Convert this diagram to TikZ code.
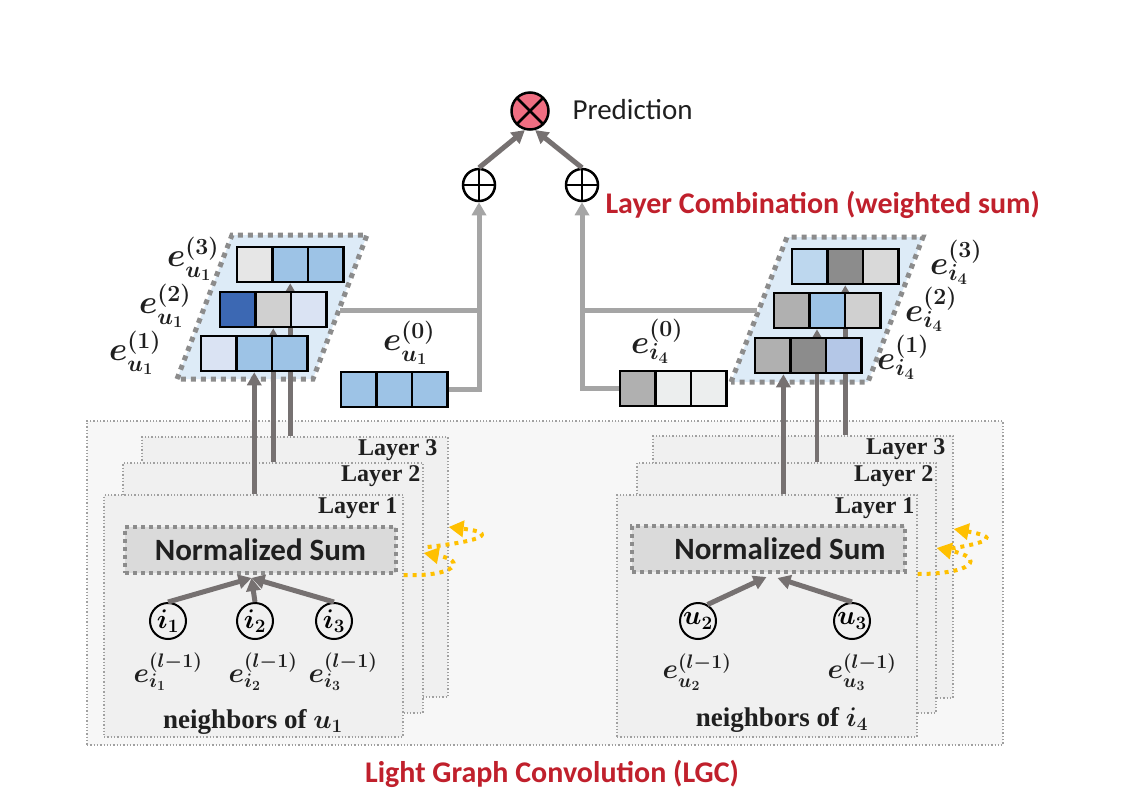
\RequirePackage{fix-cm}
\documentclass[tikz,border=0pt]{standalone}
\usepackage{fontspec}
\newfontfamily\carlito{Carlito}
\newfontfamily\tagserif{Liberation Serif}
\usetikzlibrary{arrows.meta,calc}
\pgfdeclarelayer{back}
\pgfdeclarelayer{mid}
\pgfsetlayers{back,mid,main}

\begin{document}
\begin{tikzpicture}[x=1pt, y=-1pt, line cap=butt,
  cell/.style={draw=black, line width=2.5pt, minimum width=35.5pt, minimum height=35pt, inner sep=0pt},
  outerbox/.style={draw=dotGray, line width=1.3pt, dotted, fill=outerFill, inner sep=0pt},
  layerbox/.style={draw=dotGray, line width=1.3pt, dotted, fill=layerFill, inner sep=0pt},
  layertag/.style={anchor=north east, inner sep=3pt, text=inkBlack, font=\tagserif\fontsize{24}{26}\selectfont\bfseries},
  sumbox/.style={draw=borderGray, line width=4pt, dash pattern=on 4pt off 4pt, fill=sumFill, inner sep=0pt,
    text=inkBlack, font=\carlito\fontsize{31}{34}\selectfont\bfseries},
  parabox/.style={fill=paraFill, draw=borderGray, line width=5pt, dash pattern=on 5pt off 5pt},
  nbr/.style={circle, draw=black, line width=2pt, minimum size=36pt, inner sep=0pt, fill=layerFill,
    font=\fontsize{27}{28}\selectfont\boldmath},
  nbrtag/.style={inner sep=0pt, text=inkBlack, font=\fontsize{28}{30}\selectfont\boldmath},
  embtag/.style={inner sep=0pt, text=inkBlack, font=\fontsize{33}{35}\selectfont\boldmath},
  nbrcap/.style={text=inkBlack, font=\tagserif\fontsize{27}{30}\selectfont\bfseries\boldmath},
  headed/.style={-{Triangle[length=13pt, width=14pt]}},
  grayar/.style={draw=arrowGray, line width=5pt, headed},
  combline/.style={draw=combGray, line width=5pt},
  flow/.style={draw=flowYellow, line width=4pt, dash pattern=on 4pt off 5pt, -{Triangle[length=15pt, width=16pt]}},
  plusop/.style={circle, draw=black, line width=2.5pt, minimum size=32pt, inner sep=0pt,
    path picture={\draw[line width=2.5pt] (path picture bounding box.north) -- (path picture bounding box.south)
      (path picture bounding box.west) -- (path picture bounding box.east);}},
  timesop/.style={circle, draw=black, line width=2.5pt, minimum size=37pt, inner sep=0pt, fill=predPink,
    path picture={\draw[line width=2.5pt] (path picture bounding box.north west) -- (path picture bounding box.south east)
      (path picture bounding box.north east) -- (path picture bounding box.south west);}},
  redtitle/.style={text=titleRed, font=\carlito\fontsize{30}{34}\selectfont\bfseries}]
  \definecolor{arrowGray}{HTML}{767171}
  \definecolor{combGray}{HTML}{A5A5A5}
  \definecolor{borderGray}{HTML}{8C8C8C}
  \definecolor{dotGray}{HTML}{A0A0A0}
  \definecolor{layerFill}{HTML}{F0F0F0}
  \definecolor{outerFill}{HTML}{F7F7F7}
  \definecolor{sumFill}{HTML}{DADADA}
  \definecolor{paraFill}{HTML}{DDEBF7}
  \definecolor{titleRed}{HTML}{C0202C}
  \definecolor{flowYellow}{HTML}{FFC000}
  \definecolor{predPink}{HTML}{F06E82}
  \definecolor{inkBlack}{HTML}{1F1F1F}
  \definecolor{cBlue}{HTML}{9DC3E6}
  \definecolor{cPale}{HTML}{DAE3F3}
  \definecolor{cDeep}{HTML}{3C68B3}
  \definecolor{cSky}{HTML}{BDD7EE}
  \definecolor{cLav}{HTML}{B4C7E7}
  \definecolor{cGrayA}{HTML}{E6E6E6}
  \definecolor{cGrayB}{HTML}{D0D0D0}
  \definecolor{cGrayC}{HTML}{B0B0B0}
  \definecolor{cGrayD}{HTML}{8C8C8C}
  \definecolor{cGrayE}{HTML}{ECEEEE}
  \definecolor{cGrayF}{HTML}{D9D9D9}
  \useasboundingbox (0,0) rectangle (1143,801);

  % LGC frames and stacked layers
  \begin{pgfonlayer}{back}
    \node[outerbox, minimum width=916pt, minimum height=324pt] (lgc) at (545,583) {};
    \node[layerbox, minimum width=306pt, minimum height=260pt] (ll3) at (295,567) {};
    \node[layerbox, minimum width=300pt, minimum height=250pt] (ll2) at (273,588) {};
    \node[layerbox, minimum width=299pt, minimum height=242pt] (ll1) at (253.5,616) {};
    \node[layerbox, minimum width=300pt, minimum height=262pt] (rl3) at (803,567) {};
    \node[layerbox, minimum width=299pt, minimum height=250pt] (rl2) at (786.5,588) {};
    \node[layerbox, minimum width=300pt, minimum height=242pt] (rl1) at (767,616) {};
    \path[parabox] (177,379) -- (232,235) -- (367,235) -- (313,379) -- cycle;
    \path[parabox] (731,382) -- (787,237) -- (923,237) -- (868,382) -- cycle;
  \end{pgfonlayer}

  \node[layertag, xshift=-8pt] (ltag3) at (ll3.north east) {Layer 3};
  \node[layertag] (ltag2) at (ll2.north east) {Layer 2};
  \node[layertag, xshift=-3pt] (ltag1) at (ll1.north east) {Layer 1};
  \node[layertag, xshift=-5pt] (rtag3) at (rl3.north east) {Layer 3};
  \node[layertag] (rtag2) at (rl2.north east) {Layer 2};
  \node[layertag] (rtag1) at (rl1.north east) {Layer 1};

  % embedding cells
  \foreach \name/\lx/\cy/\ca/\cb/\cc in {
    l3/237/264.5/cGrayA/cBlue/cBlue, l2/220/309.5/cDeep/cGrayB/cPale,
    l1/201/353.5/cPale/cBlue/cBlue, l0/341/389.5/cBlue/cBlue/cBlue,
    r3/792/266.5/cSky/cGrayD/cGrayF, r2/774/310.5/cGrayC/cBlue/cGrayB,
    r1/755/355.5/cGrayC/cGrayD/cLav, r0/620/388.5/cGrayC/cGrayE/cGrayE}{
    \node[cell, fill=\ca] (\name a) at (\lx+17.75,\cy) {};
    \node[cell, fill=\cb] (\name b) at (\lx+53.25,\cy) {};
    \node[cell, fill=\cc] (\name c) at (\lx+88.75,\cy) {};
  }

  \node[embtag] (eu3) at (193,259) {$e_{u_1}^{(3)}$};
  \node[embtag] (eu2) at (165,306) {$e_{u_1}^{(2)}$};
  \node[embtag] (eu1) at (135,353) {$e_{u_1}^{(1)}$};
  \node[embtag] (eu0) at (409,343) {$e_{u_1}^{(0)}$};
  \node[embtag] (ei3) at (956,262) {$e_{i_4}^{(3)}$};
  \node[embtag] (ei2) at (931,309) {$e_{i_4}^{(2)}$};
  \node[embtag] (ei1) at (903,357) {$e_{i_4}^{(1)}$};
  \node[embtag] (ei0) at (657,341) {$e_{i_4}^{(0)}$};

  % layer outputs up into the stacks
  \coordinate (rin1) at ($(r1a.south west)!0.78!(r1a.south east)$);
  \coordinate (rin2) at ($(r2b.south west)!0.23!(r2b.south east)$);
  \begin{pgfonlayer}{mid}
    \draw[grayar, line width=4.5pt] (ll1.north -| l1b) -- (l1b.south);
    \draw[grayar, line width=4.5pt] (ll2.north -| l2b) -- (l2b.south);
    \draw[grayar, line width=4.5pt] (ll3.north -| l3b) -- (l3b.south);
    \draw[grayar, line width=4.5pt] (rl1.north -| rin1) -- (rin1);
    \draw[grayar, line width=4.5pt] (rl2.north -| rin2) -- (rin2);
    \draw[grayar, line width=4.5pt] (rl3.north -| r3b) -- (r3b.south);
  \end{pgfonlayer}

  % normalized sums
  \node[sumbox, minimum width=271pt, minimum height=46pt] (lns) at (260.5,550) {Normalized Sum};
  \node[sumbox, minimum width=273pt, minimum height=46pt] (rns) at (768.5,549) {\hspace*{23pt}Normalized Sum};

  \node[nbr] (i1) at (168,621) {$i_1$};
  \node[nbr] (i2) at (255,621) {$i_2$};
  \node[nbr] (i3) at (334,621) {$i_3$};
  \node[nbr] (u2) at (698,621) {$u_2$};
  \node[nbr] (u3) at (852,621) {$u_3$};
  \node[nbrtag] (ei1l) at (168,672) {$e_{i_1}^{(l-1)}$};
  \node[nbrtag] (ei2l) at (263,672) {$e_{i_2}^{(l-1)}$};
  \node[nbrtag] (ei3l) at (343,672) {$e_{i_3}^{(l-1)}$};
  \node[nbrtag] (eu2l) at (697,672) {$e_{u_2}^{(l-1)}$};
  \node[nbrtag] (eu3l) at (862,672) {$e_{u_3}^{(l-1)}$};
  \node[nbrcap] (nbu) at (253,722) {neighbors of $u_1$};
  \node[nbrcap] (nbi) at (782,720) {neighbors of $i_4$};

  \coordinate (lhub) at ([xshift=-9pt, yshift=-3pt]lns.south);
  \draw[grayar] (i1.north) -- (lhub);
  \draw[grayar] (i2.north) -- (lhub);
  \draw[grayar] (i3.north) -- (lhub);
  \draw[grayar] (u2.60) -- ([xshift=-2pt, yshift=-3pt]rns.south);
  \draw[grayar] (u3.north) -- ([xshift=9pt, yshift=-4pt]rns.south);

  % propagation to the next layer
  \draw[flow] (ll1.east |- lns.south) .. controls +(50,2) and +(45,8) .. ([yshift=35pt]ll2.east);
  \draw[flow] ([xshift=4pt, yshift=41pt]ll2.east) .. controls +(55,-6) and +(50,6) .. ([yshift=40pt]ll3.east);
  \draw[flow] (rl1.east |- rns.south) .. controls +(55,0) and +(50,10) .. ([yshift=40pt]rl2.east);
  \draw[flow] ([xshift=6pt, yshift=38pt]rl2.east) .. controls +(50,-8) and +(45,8) .. ([yshift=38pt]rl3.east);

  % layer combination and prediction
  \node[plusop] (lsum) at (479,185) {};
  \node[plusop] (rsum) at (582,185) {};
  \node[timesop] (pred) at (530,111) {};
  \node[anchor=west, text=inkBlack, font=\carlito\fontsize{29}{32}\selectfont] (predtxt) at (569,110) {Prediction};
  \node[redtitle, anchor=west] (combtxt) at (602,205) {Layer Combination (weighted sum)};
  \node[redtitle] (lgctxt) at (552,774) {Light Graph Convolution (LGC)};

  \coordinate (ljoin) at (340,310);
  \coordinate (rjoin) at (757,310);
  \draw[combline] (ljoin) -- (ljoin -| lsum);
  \draw[combline] (rjoin) -- (rjoin -| rsum);
  \draw[combline, headed] (l0c.east) -| (lsum.south);
  \draw[combline, headed] (r0a.west) -| (rsum.south);
  \draw[grayar] (lsum.north) -- (pred.-105);
  \draw[grayar] (rsum.north) -- (pred.-75);
\end{tikzpicture}
\end{document}
